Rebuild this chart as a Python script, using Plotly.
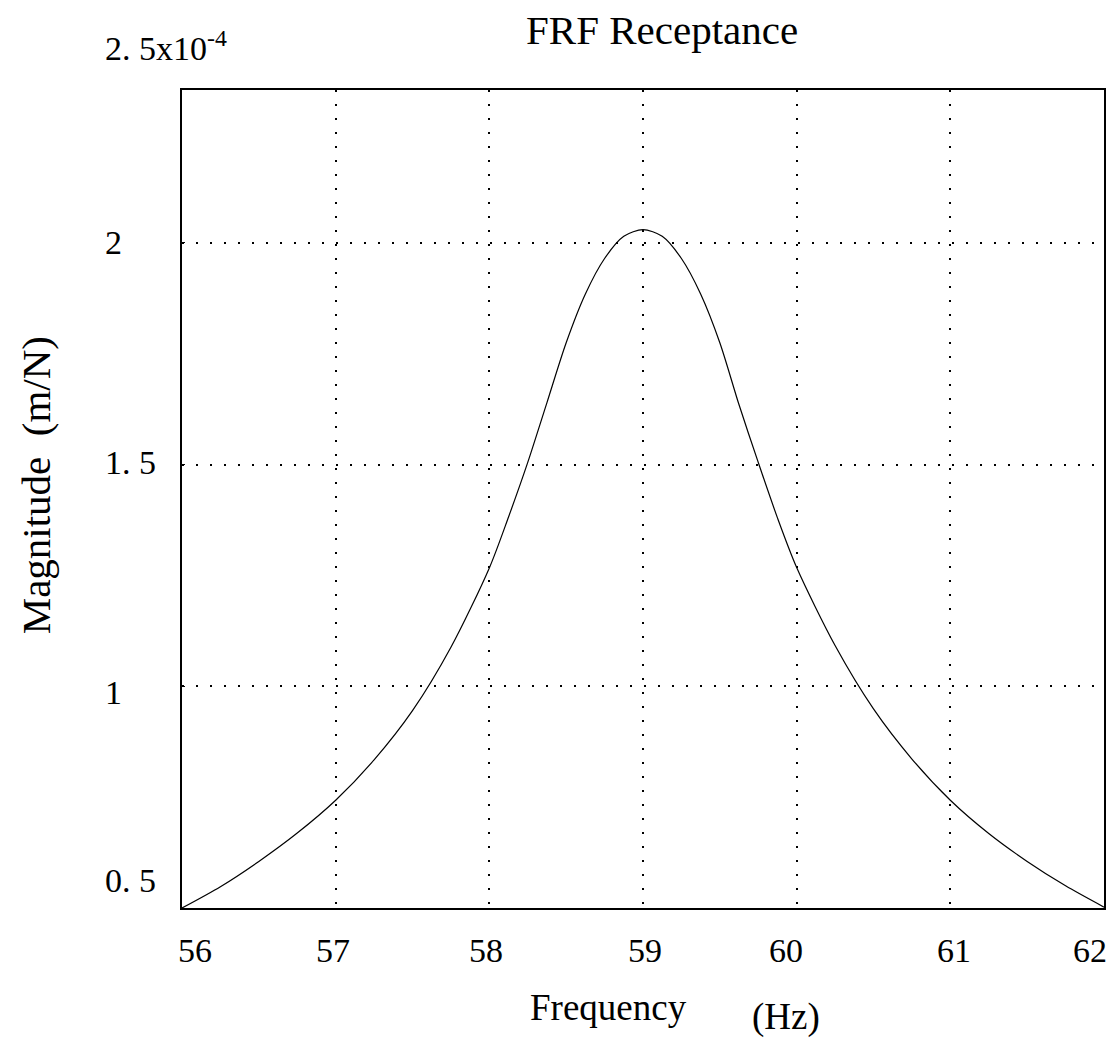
import plotly.graph_objects as go

# Data (magnitude in units of 1e-4 m/N)
freq_hz = [56.00, 56.25, 56.50, 56.75, 57.00, 57.25, 57.50, 57.75,
           58.00, 58.125, 58.25, 58.375, 58.50, 58.625, 58.75, 58.875,
           59.00, 59.125, 59.25, 59.375, 59.50, 59.625, 59.75, 59.875,
           60.00, 60.25, 60.50, 60.75, 61.00, 61.25, 61.50, 61.75, 62.00]
magnitude = [0.500, 0.548, 0.605, 0.669, 0.743, 0.834, 0.945, 1.088,
             1.267, 1.382, 1.505, 1.640, 1.775, 1.885, 1.965, 2.015,
             2.030, 2.015, 1.965, 1.885, 1.775, 1.635, 1.505, 1.380,
             1.268, 1.092, 0.949, 0.836, 0.743, 0.668, 0.605, 0.550, 0.502]

x_ticks = [56, 57, 58, 59, 60, 61, 62]
x_tick_labels = ["56", "57", "58", "59", "60", "61", "62"]
x_grid = [57, 58, 59, 60, 61]
y_ticks = [0.5, 1, 1.5, 2]
y_tick_labels = ["0. 5", "1", "1. 5", "2"]
y_grid = [1, 1.5, 2]
y_exponent_label = "2. 5x10<sup>-4</sup>"

title_text = "FRF Receptance"
x_title = "Frequency"
x_unit = "(Hz)"
y_title = "Magnitude  (m/N)"

SERIF = "Liberation Serif"

# page body has an 8px margin; the figure is sized to fit the window exactly
W, H = 1098, 1030
ML, MR, MT, MB = 174, 0, 82, 130
PW = W - ML - MR
PH = H - MT - MB


def px(page_x):
    return (page_x - 8 - ML) / PW


def py(page_y):
    return (8 + MT + PH - page_y) / PH


fig = go.Figure()
fig.add_trace(go.Scatter(
    x=freq_hz, y=magnitude, mode="lines",
    line=dict(color="black", width=1.2, shape="spline", smoothing=0.8),
    showlegend=False, hoverinfo="x+y",
))

fig.update_layout(
    width=W, height=H,
    margin=dict(l=ML, r=MR, t=MT, b=MB),
    paper_bgcolor="white", plot_bgcolor="white",
    xaxis=dict(
        range=[56, 62], tickvals=x_grid, showticklabels=False, ticks="",
        showgrid=True, gridcolor="black", gridwidth=1.5, griddash="2px,12px",
        showline=True, linecolor="black", linewidth=1.5, mirror=True,
        zeroline=False, fixedrange=True,
    ),
    yaxis=dict(
        range=[0.5, 2.345], tickvals=y_grid, showticklabels=False,
        ticks="inside", ticklen=3, tickcolor="black",
        showgrid=True, gridcolor="black", gridwidth=1.5, griddash="2px,12px",
        showline=True, linecolor="black", linewidth=1.5, mirror=True,
        zeroline=False, fixedrange=True,
    ),
)

annotations = []
# x tick labels
x_shifts = {56: 13, 57: -3, 58: -3, 59: 2, 60: -11, 61: 4, 62: -14}
for v, t in zip(x_ticks, x_tick_labels):
    annotations.append(dict(
        x=v, xref="x", y=py(950), yref="paper", text=t, showarrow=False,
        xanchor="center", yanchor="middle", xshift=x_shifts[v],
        font=dict(family=SERIF, size=34, color="black"),
    ))
# y tick labels (left aligned)
y_shifts = {0.5: 28, 1: -6, 1.5: 2, 2: 0}
for v, t in zip(y_ticks, y_tick_labels):
    annotations.append(dict(
        x=px(103), xref="paper", y=v, yref="y", text=t, showarrow=False,
        xanchor="left", yanchor="middle", yshift=y_shifts[v],
        font=dict(family=SERIF, size=34, color="black"),
    ))
# exponent label
annotations.append(dict(
    x=px(103), xref="paper", y=py(46), yref="paper",
    text=y_exponent_label, showarrow=False, xanchor="left", yanchor="middle",
    font=dict(family=SERIF, size=34, color="black"),
))
# title
annotations.append(dict(
    x=px(663), xref="paper", y=py(30), yref="paper",
    text=title_text, showarrow=False, xanchor="center", yanchor="middle",
    font=dict(family=SERIF, size=41, color="black"),
))
# axis titles
annotations.append(dict(
    x=px(609), xref="paper", y=py(1007), yref="paper",
    text=x_title, showarrow=False, xanchor="center", yanchor="middle",
    font=dict(family=SERIF, size=37, color="black"),
))
annotations.append(dict(
    x=px(787), xref="paper", y=py(1017), yref="paper",
    text=x_unit, showarrow=False, xanchor="center", yanchor="middle",
    font=dict(family=SERIF, size=37, color="black"),
))
annotations.append(dict(
    x=px(36), xref="paper", y=py(485), yref="paper",
    text=y_title, showarrow=False, xanchor="center", yanchor="middle",
    textangle=-90, font=dict(family=SERIF, size=41, color="black"),
))
fig.update_layout(annotations=annotations)

fig.write_html("out.html")
